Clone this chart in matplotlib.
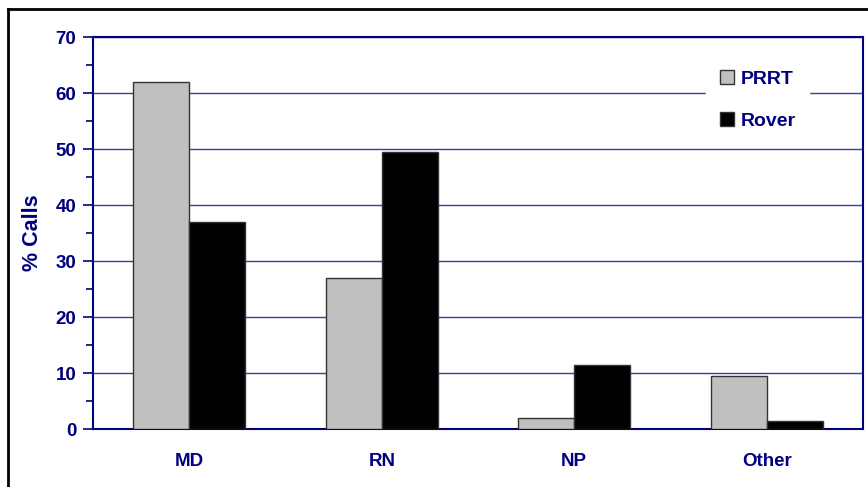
import numpy as np
import matplotlib
matplotlib.use("Agg")
import matplotlib.pyplot as plt
from matplotlib.ticker import MultipleLocator
from matplotlib.lines import Line2D

categories = ["MD", "RN", "NP", "Other"]
prrt = [62.0, 27.0, 2.0, 9.5]
rover = [37.0, 49.5, 11.5, 1.5]

navy = "#000080"
plt.rcParams['font.family'] = ['Liberation Sans', 'DejaVu Sans']

fig = plt.figure(figsize=(8.68, 4.87), dpi=100)
ax = fig.add_axes([93/868, 1 - 429/487, 770/868, 392/487])

# outer frame (only top and left edges show)
fig.add_artist(Line2D([8/868, 8/868], [0, 1 - 9/487], transform=fig.transFigure,
                      color="black", lw=2))
fig.add_artist(Line2D([8/868, 1], [1 - 9/487, 1 - 9/487], transform=fig.transFigure,
                      color="black", lw=2))

x = np.arange(len(categories))
w = 0.29
ax.bar(x - w/2, prrt, w, color="#c0c0c0", edgecolor="#333333", lw=1, label="PRRT", zorder=3)
ax.bar(x + w/2, rover, w, color="black", edgecolor="#333333", lw=1, label="Rover", zorder=3)

ax.set_xlim(-0.5, 3.5)
ax.set_ylim(0, 70)
ax.yaxis.set_major_locator(MultipleLocator(10))
ax.yaxis.set_minor_locator(MultipleLocator(5))
ax.grid(axis="y", color="#3c3ca0", lw=1, zorder=0)
for s in ax.spines.values():
    s.set_color(navy)
    s.set_linewidth(1.5)
ax.tick_params(axis="y", which="both", colors=navy, direction="out", width=1.2)
ax.tick_params(axis="y", which="major", length=7, pad=5)
ax.tick_params(axis="y", which="minor", length=5)
ax.tick_params(axis="x", length=0, pad=17)
ax.set_xticks(x)
ax.set_xticklabels(categories)
for lab in ax.get_xticklabels() + ax.get_yticklabels():
    lab.set_fontweight("bold")
    lab.set_color(navy)
    lab.set_fontsize(13.5)
ax.set_ylabel("% Calls", fontsize=15.5, fontweight="bold", color=navy, labelpad=9)

leg = ax.legend(loc="upper right", bbox_to_anchor=(0.93, 0.95), frameon=True,
                fancybox=False, edgecolor="white", framealpha=1,
                prop={"weight": "bold", "size": 14}, handlelength=0.7, handleheight=0.7,
                handletextpad=0.35, labelspacing=1.25, borderpad=0.7, borderaxespad=0)
for t in leg.get_texts():
    t.set_color(navy)
leg.set_zorder(5)

fig.savefig("out.png", dpi=100)
